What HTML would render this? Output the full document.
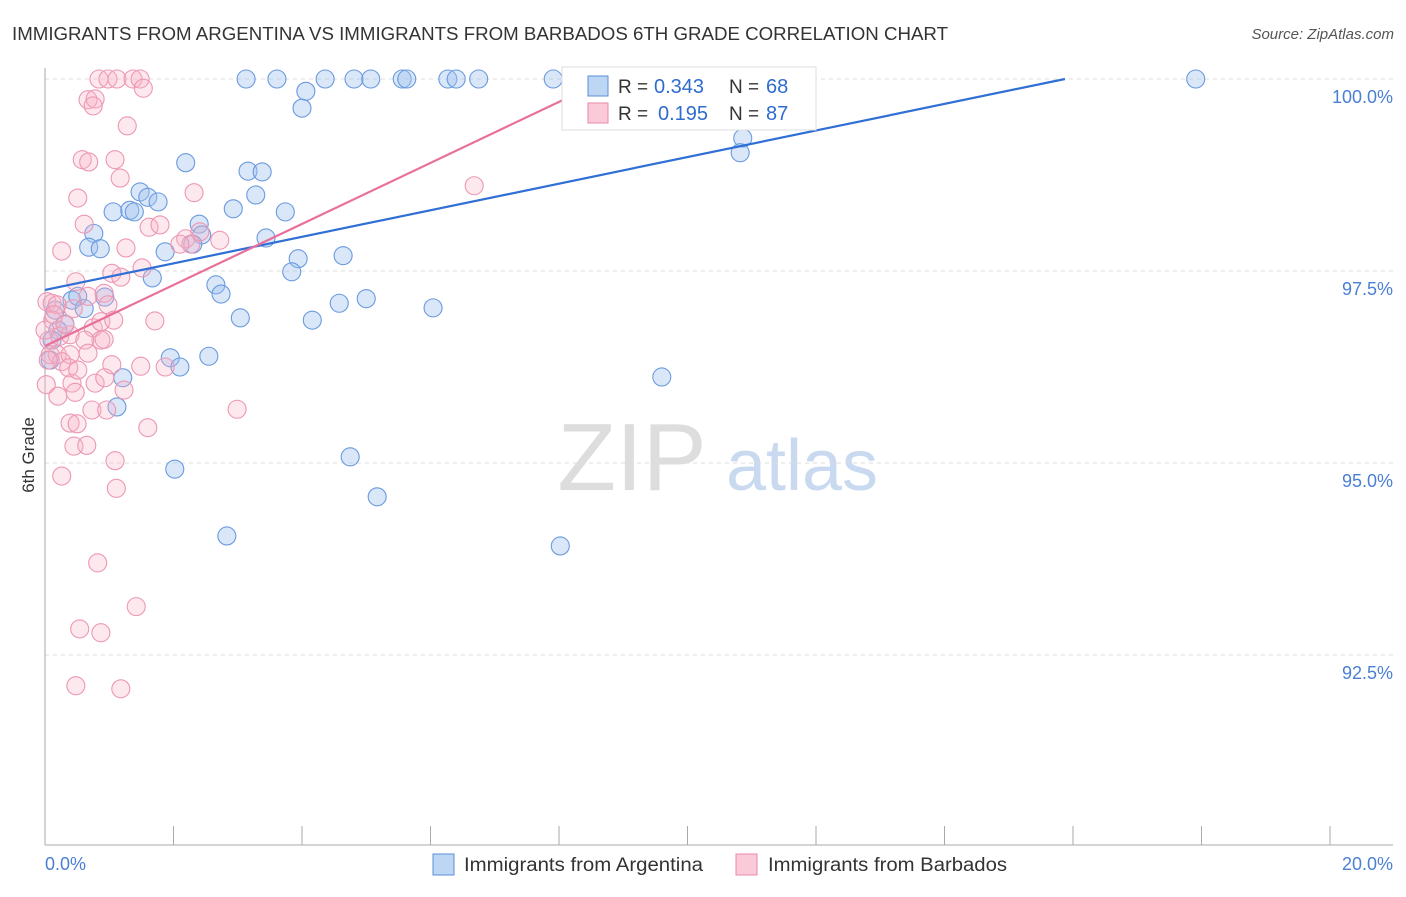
<!DOCTYPE html>
<html><head><meta charset="utf-8"><style>
body{margin:0;background:#fff;font-family:"Liberation Sans",sans-serif;}
svg text{font-family:"Liberation Sans",sans-serif;}
</style></head><body>
<svg id="chart" width="1406" height="892" xmlns="http://www.w3.org/2000/svg">
<text x="12" y="40" font-size="18" fill="#333" textLength="936" lengthAdjust="spacingAndGlyphs">IMMIGRANTS FROM ARGENTINA VS IMMIGRANTS FROM BARBADOS 6TH GRADE CORRELATION CHART</text>
<text x="1394" y="39" font-size="15" fill="#555" text-anchor="end" font-style="italic">Source: ZipAtlas.com</text>
<g>
<text x="632" y="490" font-size="96" fill="#ddd" text-anchor="middle" font-family="Liberation Serif">ZIP</text>
<text x="802" y="490" font-size="72" fill="#c9daf0" text-anchor="middle">atlas</text>
</g>
<g id="grid"></g>
<g id="axes"></g>
<g id="pts"></g>
<g id="lines"></g>
<g>
<rect x="562" y="67" width="254" height="63" fill="#fff" stroke="#ddd"/>
<rect x="588" y="76" width="20" height="20" fill="rgba(160,196,240,0.7)" stroke="#5b8fd9"/>
<rect x="588" y="103" width="20" height="20" fill="rgba(248,180,200,0.7)" stroke="#e889a8"/>
<text x="618" y="93" font-size="19" fill="#333">R =</text>
<text x="654" y="93" font-size="20" fill="#2f6ccf">0.343</text>
<text x="729" y="93" font-size="19" fill="#333">N =</text>
<text x="766" y="93" font-size="20" fill="#2f6ccf">68</text>
<text x="618" y="120" font-size="19" fill="#333">R =</text>
<text x="658" y="120" font-size="20" fill="#2f6ccf">0.195</text>
<text x="729" y="120" font-size="19" fill="#333">N =</text>
<text x="766" y="120" font-size="20" fill="#2f6ccf">87</text>
</g>
<text transform="translate(34,455) rotate(-90)" font-size="17" fill="#333" text-anchor="middle">6th Grade</text>
<text x="45" y="870" font-size="18" fill="#4a7fd4">0.0%</text>
<text x="1393" y="870" font-size="18" fill="#4a7fd4" text-anchor="end">20.0%</text>
<g>
<rect x="433" y="854" width="21" height="21" fill="rgba(160,196,240,0.7)" stroke="#5b8fd9"/>
<text x="464" y="871" font-size="19" fill="#333" textLength="239" lengthAdjust="spacingAndGlyphs">Immigrants from Argentina</text>
<rect x="736" y="854" width="21" height="21" fill="rgba(248,180,200,0.7)" stroke="#e889a8"/>
<text x="768" y="871" font-size="19" fill="#333" textLength="239" lengthAdjust="spacingAndGlyphs">Immigrants from Barbados</text>
</g>
</svg>
<script>
const yTicks=[100,97.5,95,92.5];
const yTickLabels=["100.0%","97.5%","95.0%","92.5%"];
const xTicks=[0,2,4,6,8,10,12,14,16,18,20];
const argX=[3.13,3.61,4.36,4.81,5.07,5.56,5.63,6.27,6.40,6.75,7.91,8.19,17.91,4.06,4.00,10.86,10.82,2.19,3.16,3.38,1.48,1.60,1.76,3.28,1.06,1.32,1.39,2.93,3.74,2.40,0.76,2.44,0.68,0.86,1.87,2.30,3.44,4.64,3.94,3.84,1.67,2.66,2.74,0.42,0.51,0.93,0.61,4.58,5.00,6.04,3.04,4.16,0.31,0.20,0.11,0.08,1.95,2.10,2.55,1.21,9.60,1.12,2.02,4.75,5.17,2.83,8.02,0.16];
const argY=[100,100,100,100,100,100,100,100,100,100,100,100,100,99.84,99.62,99.23,99.04,98.91,98.80,98.79,98.53,98.46,98.40,98.49,98.27,98.29,98.27,98.31,98.27,98.11,97.99,97.97,97.81,97.79,97.75,97.85,97.93,97.70,97.66,97.49,97.41,97.32,97.20,97.12,97.17,97.16,97.01,97.08,97.14,97.02,96.89,96.86,96.81,96.73,96.60,96.34,96.37,96.25,96.39,96.11,96.12,95.73,94.92,95.08,94.56,94.05,93.92,96.99];
const barX=[0.84,0.98,1.12,1.37,1.48,1.53,0.67,0.78,0.75,1.28,0.58,0.68,1.17,0.51,2.32,6.68,0.61,1.62,2.19,2.72,0.26,1.26,2.27,1.04,1.18,1.51,0.48,0.67,0.92,0.98,0.44,0.03,0.11,0.19,0.12,0.14,0.75,0.87,1.07,1.71,0.87,0.92,0.06,0.23,0.39,0.08,0.19,0.39,0.26,0.37,1.04,1.49,1.87,0.02,0.42,0.47,0.20,1.23,0.73,0.96,2.99,1.60,0.39,0.50,0.45,0.65,1.09,0.26,1.11,0.82,1.42,0.54,0.87,0.48,1.18,2.10,1.09,1.79,2.41,0.05,0.31,0.62,0.51,0.78,0.93,0.67,0.00];
const barY=[100,100,100,100,100,99.88,99.73,99.74,99.65,99.39,98.95,98.92,98.71,98.45,98.52,98.61,98.11,98.07,97.92,97.90,97.76,97.80,97.85,97.47,97.42,97.54,97.36,97.17,97.21,97.06,97.01,97.10,97.08,97.06,96.86,96.93,96.76,96.84,96.86,96.85,96.60,96.61,96.60,96.65,96.67,96.41,96.41,96.41,96.32,96.24,96.28,96.26,96.25,96.02,96.04,95.92,95.87,95.95,95.69,95.69,95.70,95.46,95.52,95.51,95.22,95.23,95.03,94.83,94.67,93.70,93.13,92.84,92.79,92.10,92.06,97.85,98.95,98.10,98.01,96.34,96.80,96.60,96.21,96.04,96.11,96.43,96.73];
const argTrend=[[0,97.253],[15.875,100]];
const barTrend=[[0,96.523],[8.062,99.727]];
const NS='http://www.w3.org/2000/svg';
const sx=v=>45+v*64.25, sy=v=>79+(100-v)*76.8;
function mk(tag,attrs,parent){const e=document.createElementNS(NS,tag);for(const k in attrs)e.setAttribute(k,attrs[k]);document.getElementById(parent).appendChild(e);return e;}
yTicks.forEach((t,i)=>{
 const l=mk('line',{x1:45,x2:1393,y1:sy(t),y2:sy(t),stroke:'#ddd','stroke-dasharray':'4,4'},'grid');
 
 
 const tx=mk('text',{x:1393,y:sy(t)+24,'font-size':18,fill:'#4a7fd4','text-anchor':'end'},'grid');
 tx.textContent=yTickLabels[i];
 
 
});
let a=mk('line',{x1:45,x2:45,y1:68,y2:845,stroke:'#aaa'},'axes');


a=mk('line',{x1:45,x2:1393,y1:845,y2:845,stroke:'#aaa'},'axes');


xTicks.forEach(t=>{const l=mk('line',{x1:sx(t),x2:sx(t),y1:826,y2:845,stroke:'#aaa'},'axes');
 
 });
argX.forEach((x,i)=>{const c=mk('circle',{cx:sx(x),cy:sy(argY[i]),r:9,fill:'rgba(160,196,240,0.4)',stroke:'#6a9ade','stroke-width':1.1},'pts');
 
 });
barX.forEach((x,i)=>{const c=mk('circle',{cx:sx(x),cy:sy(barY[i]),r:9,fill:'rgba(248,180,200,0.3)',stroke:'#ec97b3','stroke-width':1.1},'pts');
 
 });
let t=mk('line',{x1:sx(argTrend[0][0]),y1:sy(argTrend[0][1]),x2:sx(argTrend[1][0]),y2:sy(argTrend[1][1]),stroke:'#2f6fd6','stroke-width':2.2},'lines');


t=mk('line',{x1:sx(barTrend[0][0]),y1:sy(barTrend[0][1]),x2:sx(barTrend[1][0]),y2:sy(barTrend[1][1]),stroke:'#e8709a','stroke-width':2.2},'lines');


</script>
</body></html>
